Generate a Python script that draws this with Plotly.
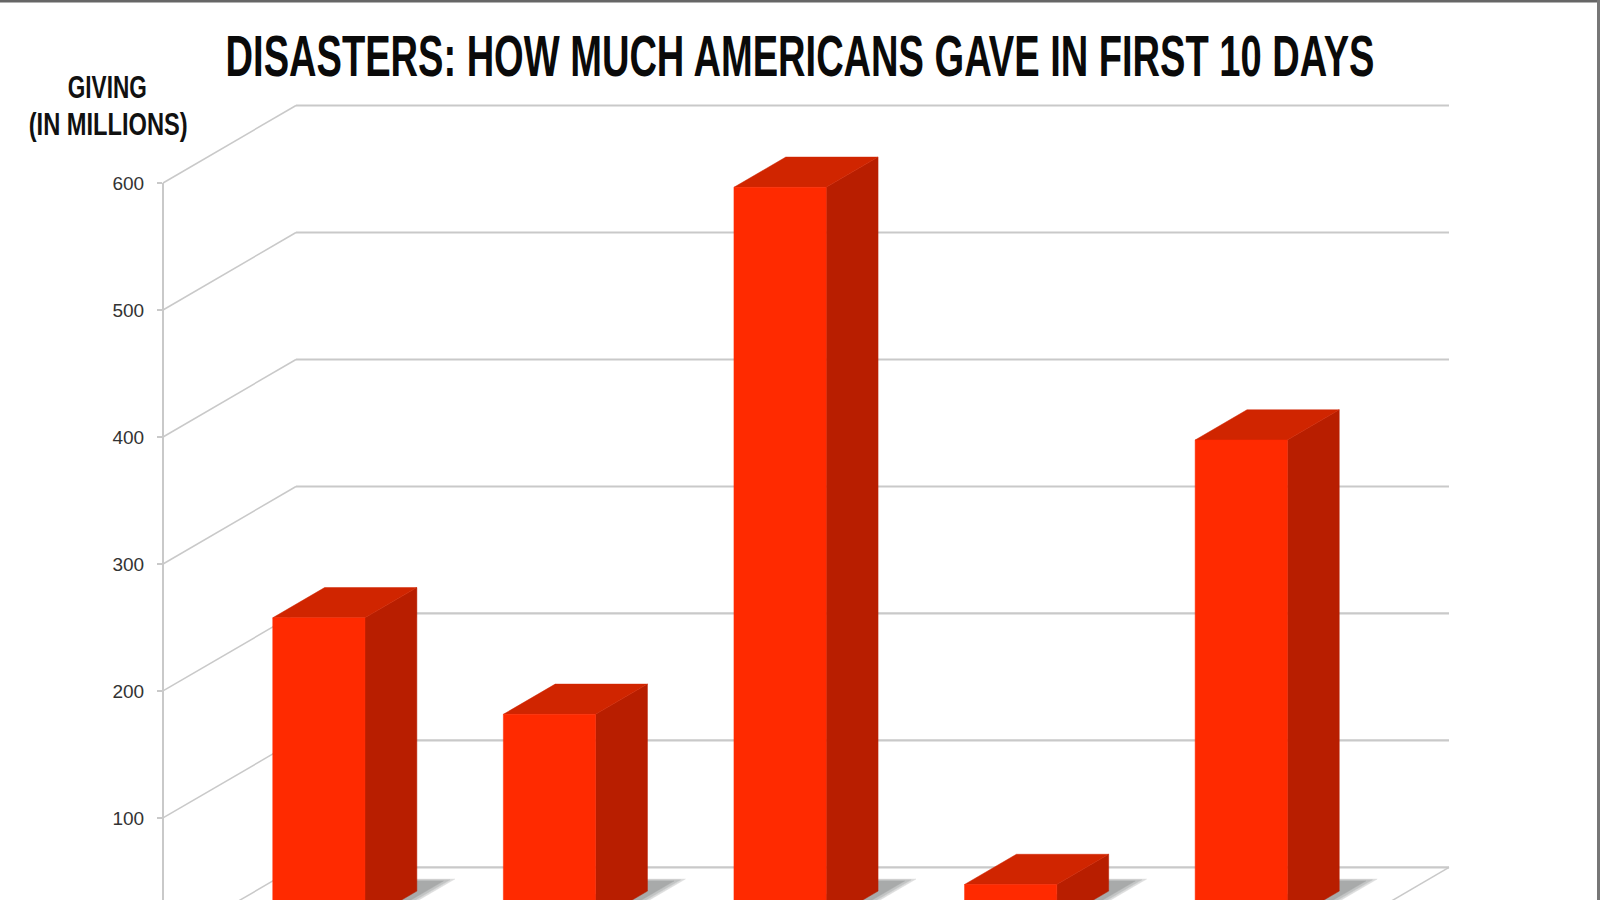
import plotly.graph_objects as go

# ---- data ----
categories = ["Disaster A", "Disaster B", "Disaster C", "Disaster D", "Disaster E"]
giving = [239, 163, 578, 29, 379]
tick_vals = [100, 200, 300, 400, 500, 600]
title_text = "DISASTERS: HOW MUCH AMERICANS GAVE IN FIRST 10 DAYS"
unit_lines = ["GIVING", "(IN MILLIONS)"]

# ---- oblique projection of the 3-D box, in axis units ----
SKEW_X = 133 / 230.6
SKEW_Y = 77.5 / 1.27
D0, D1 = 0.305, 0.695
C0, C1 = 0.30, 0.70
GRID = "#c9c9c9"
FRONT, SIDE, TOP = "#ff2a00", "#b81e00", "#d02500"
HEAD = "Liberation Sans"
# soft shadow on the floor: (right edge, far edge, colour), outermost first
SHADOW_LAYERS = [(0.775, 0.85, "#dcdddd"), (0.76, 0.84, "#c2c4c4"), (0.74, 0.825, "#a8aaaa")]


def proj(c, v, d):
    return c + d * SKEW_X, v + d * SKEW_Y


def poly(points, color, name):
    xy = [proj(*p) for p in points]
    xs = [p[0] for p in xy] + [xy[0][0]]
    ys = [p[1] for p in xy] + [xy[0][1]]
    return go.Scatter(x=xs, y=ys, mode="lines", fill="toself", fillcolor=color,
                      line=dict(color=color, width=0.5), hoverinfo="text", text=name,
                      showlegend=False, xaxis="x", yaxis="y")


fig = go.Figure()

# wall and floor grid
for v in [0] + tick_vals:
    a = proj(0, v, 0)
    b = proj(0, v, 1)
    c = proj(len(giving), v, 1)
    fig.add_trace(go.Scatter(x=[a[0], b[0]], y=[a[1], b[1]], mode="lines",
                             line=dict(color=GRID, width=1.5), hoverinfo="skip", showlegend=False))
    fig.add_trace(go.Scatter(x=[b[0], c[0]], y=[b[1], c[1]], mode="lines",
                             line=dict(color=GRID, width=2.2), hoverinfo="skip", showlegend=False))
a = proj(len(giving), 0, 0)
b = proj(len(giving), 0, 1)
fig.add_trace(go.Scatter(x=[a[0], b[0]], y=[a[1], b[1]], mode="lines",
                         line=dict(color=GRID, width=1.5), hoverinfo="skip", showlegend=False))

# shadows, then bars
for i, cat in enumerate(categories):
    for edge, far, shade in SHADOW_LAYERS:
        fig.add_trace(poly([(i + 0.5, 0, 0.4), (i + edge, 0, 0.4), (i + edge, 0, far), (i + 0.5, 0, far)],
                           shade, cat))
for i, (cat, val) in enumerate(zip(categories, giving)):
    l, r = i + C0, i + C1
    label = f"{cat}: {val}"
    fig.add_trace(poly([(r, 0, D0), (r, 0, D1), (r, val, D1), (r, val, D0)], SIDE, label))
    fig.add_trace(poly([(l, val, D0), (r, val, D0), (r, val, D1), (l, val, D1)], TOP, label))
    fig.add_trace(poly([(l, 0, D0), (r, 0, D0), (r, val, D0), (l, val, D0)], FRONT, label))

# the value axis itself
fig.add_trace(go.Scatter(x=[0, 0], y=[tick_vals[0], tick_vals[-1]], mode="lines",
                         line=dict(color=GRID, width=1.5), hoverinfo="skip",
                         showlegend=False, xaxis="x", yaxis="y2"))

fig.update_layout(
    width=1600, height=900, margin=dict(l=0, r=0, t=0, b=0, pad=0, autoexpand=False),
    paper_bgcolor="white", plot_bgcolor="rgba(0,0,0,0)", showlegend=False, hovermode="closest",
    title=dict(text=title_text, x=0.5, xanchor="center", y=1 - 56 / 900, yanchor="middle",
               font=dict(family=HEAD, size=58, color="#0a0a0a", weight="bold")),
    xaxis=dict(range=[-163 / 230.6, 1437 / 230.6], domain=[0, 1], visible=False, fixedrange=True),
    yaxis=dict(range=[35.4, 744.1], domain=[0, 1], visible=False, fixedrange=True),
    yaxis2=dict(range=[35.4, 600], domain=[0, 717 / 900], anchor="free", position=163 / 1600,
                side="left", tickmode="array", tickvals=tick_vals,
                ticks="outside", ticklen=5, tickwidth=1.5, tickcolor=GRID, ticklabelstandoff=9,
                showline=True, linecolor=GRID, linewidth=2, showgrid=False, zeroline=False,
                tickfont=dict(family="Liberation Sans", size=19, color="#333333"), fixedrange=True),
    annotations=[
        dict(text=unit_lines[0], x=107.5 / 1600, y=1 - 88 / 900, xref="paper", yref="paper",
             showarrow=False, xanchor="center", yanchor="middle",
             font=dict(family=HEAD, size=31, color="#111111", weight="bold")),
        dict(text=unit_lines[1], x=107.5 / 1600, y=1 - 124 / 900, xref="paper", yref="paper",
             showarrow=False, xanchor="center", yanchor="middle",
             font=dict(family=HEAD, size=31, color="#111111", weight="bold")),
    ],
    shapes=[
        dict(type="rect", xref="paper", yref="paper", x0=0, x1=1, y0=1 - 2.5 / 900, y1=1,
             fillcolor="#666666", line_width=0),
        dict(type="rect", xref="paper", yref="paper", x0=1 - 3 / 1600, x1=1, y0=0, y1=1,
             fillcolor="#777777", line_width=0),
    ],
)

# The original lettering is a tall condensed face: narrow the real text to its measured width.
post = """
document.body.style.margin = '0';
document.body.style.overflow = 'hidden';
var gd = document.getElementById('{plot_id}');
function fit(el, w) {
  if (!el) return;
  var b = el.getBBox(), k = w / b.width, cx = b.x + b.width / 2;
  el.setAttribute('transform', 'translate(' + cx + ',0) scale(' + k + ',1) translate(' + (-cx) + ',0)');
}
fit(gd.querySelector('.gtitle'), 1149);
var an = gd.querySelectorAll('.annotation-text');
fit(an[0], 79);
fit(an[1], 159);
"""
fig.write_html("out.html", post_script=post, config={"displayModeBar": False})
